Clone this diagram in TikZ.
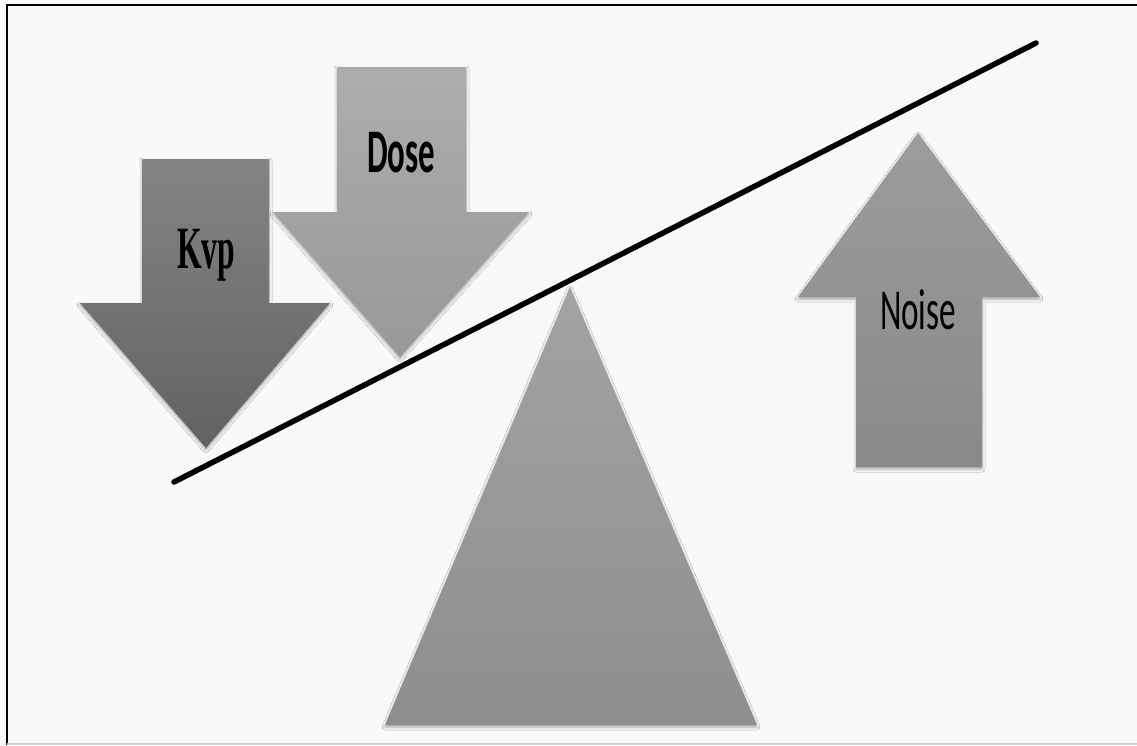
\documentclass[tikz,border=0pt]{standalone}
\usepackage{fontspec}
\setmainfont{Liberation Serif}
\newfontfamily\labelsans{Carlito}
\usetikzlibrary{shadows.blur}

\definecolor{paper}{HTML}{F9F9F9}
\definecolor{kvpTop}{HTML}{848484}
\definecolor{kvpBot}{HTML}{626262}
\definecolor{doseTop}{HTML}{ADADAD}
\definecolor{doseBot}{HTML}{989898}
\definecolor{noiseTop}{HTML}{9C9C9C}
\definecolor{noiseBot}{HTML}{898989}
\definecolor{baseTop}{HTML}{A3A3A3}
\definecolor{baseBot}{HTML}{8E8E8E}
\definecolor{rule}{HTML}{D2D2D2}

% narrow label: text squeezed to a given width, natural height
\newcommand{\narrowlabel}[2]{\resizebox{#1}{\height}{#2}}

\begin{document}
\begin{tikzpicture}[x=1pt,y=-1pt,
  soft shadow/.style={blur shadow={shadow xshift=0pt,shadow yshift=-2pt,
      shadow blur radius=3pt,shadow opacity=35}},
  block/.style={draw=none,soft shadow},
  kvp block/.style={block,top color=kvpTop,bottom color=kvpBot},
  dose block/.style={block,top color=doseTop,bottom color=doseBot},
  noise block/.style={block,top color=noiseTop,bottom color=noiseBot},
  fulcrum/.style={block,top color=baseTop,bottom color=baseBot},
  beam/.style={draw=black,line width=5.5pt,line cap=round},
  frame/.style={draw=black,line width=2pt},
  label/.style={text=black,inner sep=0pt,anchor=base},
  serif label/.style={label,font=\bfseries\fontsize{60}{60}\selectfont},
  sans label/.style={label,font=\labelsans\fontsize{60}{60}\selectfont}
]
\useasboundingbox (0,0) rectangle (1137,745);
\fill[paper] (0,0) rectangle (1137,745);

% outer frame
\draw[frame] (7,745) -- (7,5) -- (1137,5);
\draw[rule,line width=1.5pt] (7,744) -- (1137,744);

% fulcrum
\path[fulcrum] (570,287) -- (757,725) -- (385,725) -- cycle;

% Dose arrow (pointing down)
\path[dose block] (337,67) -- (466,67) -- (466,212) -- (529,212) -- (400,357)
  -- (273,212) -- (337,212) -- cycle;

% Kvp arrow (pointing down)
\path[kvp block] (142,159) -- (269,159) -- (269,303) -- (330,303) -- (206,448)
  -- (80,303) -- (142,303) -- cycle;

% Noise arrow (pointing up)
\path[noise block] (918,133) -- (1040,297) -- (982,297) -- (982,467)
  -- (856,467) -- (856,297) -- (798,297) -- cycle;

% lever beam
\coordinate (beamL) at (174,482);
\coordinate (beamR) at (1036,43);
\draw[beam] (beamL) -- (beamR);

% labels
\node[serif label] (kvp) at (206,268) {\narrowlabel{58pt}{Kvp}};
\node[sans label,font=\labelsans\bfseries\fontsize{62}{62}\selectfont] (dose) at (401,172) {\narrowlabel{68pt}{Dose}};
\node[sans label,font=\labelsans\fontsize{58}{58}\selectfont] (noise) at (918,329) {\narrowlabel{76pt}{Noise}};
\end{tikzpicture}
\end{document}
